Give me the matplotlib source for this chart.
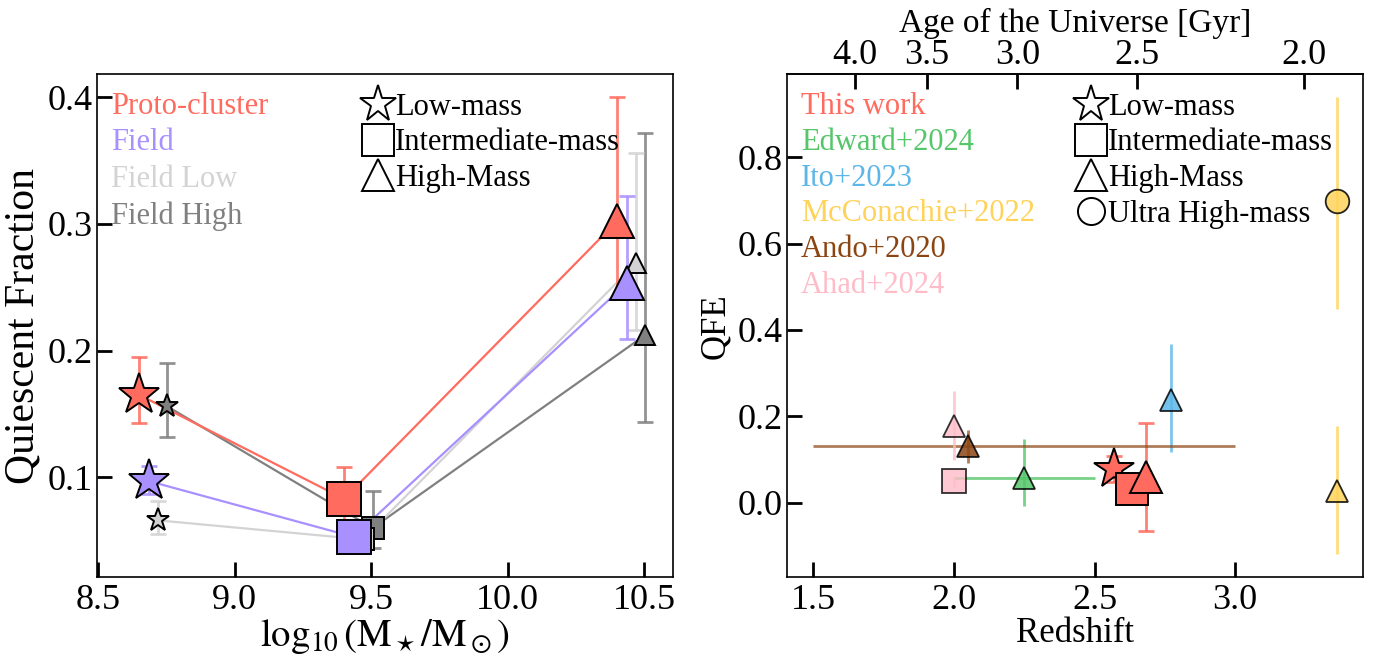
import numpy as np
import matplotlib
matplotlib.use('Agg')
import matplotlib.pyplot as plt
from matplotlib.lines import Line2D

plt.rcParams['font.family'] = ['Liberation Serif', 'DejaVu Serif']
plt.rcParams['mathtext.fontset'] = 'stix'

# ---------------- Left panel data ----------------
mass_labels = ['Low-mass', 'Intermediate-mass', 'High-Mass']

pc_x = [8.65, 9.40, 10.40]
pc_y = [0.165, 0.083, 0.302]
pc_lo = [0.022, 0.024, 0.061]
pc_hi = [0.030, 0.025, 0.098]

fd_x = [8.685, 9.435, 10.435]
fd_y = [0.097, 0.053, 0.253]
fd_lo = [0.010, 0.008, 0.044]
fd_hi = [0.012, 0.008, 0.069]

fl_x = [8.72, 9.47, 10.47]
fl_y = [0.066, 0.051, 0.269]
fl_lo = [0.011, 0.006, 0.053]
fl_hi = [0.015, 0.006, 0.087]

fh_x = [8.752, 9.505, 10.502]
fh_y = [0.156, 0.060, 0.212]
fh_lo = [0.024, 0.016, 0.068]
fh_hi = [0.034, 0.029, 0.160]

# ---------------- Right panel data ----------------
tw_z = [2.57, 2.635, 2.683]
tw_q = [0.077, 0.032, 0.060]
tw_qerr = [0.03, 0.0, 0.125]

ed_z, ed_q = 2.25, 0.058
ed_zerr = [[0.25], [0.25]]
ed_qerr = [[0.066], [0.09]]

ito_z, ito_q = 2.772, 0.238
ito_qerr = [[0.12], [0.13]]

mc_z = [3.363, 3.363]
mc_q = [0.699, 0.028]
mc_qlo = [0.25, 0.148]
mc_qhi = [0.24, 0.15]

an_z, an_q = 2.05, 0.13
an_zerr = [[0.55], [0.95]]
an_qerr = 0.038

ah_z = [2.0, 2.0]
ah_q = [0.178, 0.049]
ah_qerr = [0.08, 0.012]

age_ticks = [4.0, 3.5, 3.0, 2.5, 2.0]

# colours
C_PC = '#FF6B5E'
C_FD = '#A990FF'
C_FL = '#D3D3D3'
C_FH = '#808080'
C_ED = '#55C66A'
C_ITO = '#5DB6E8'
C_MC = '#FFD35A'
C_AN = '#8B4513'
C_AH = '#FFBCC8'

fig = plt.figure(figsize=(13.84, 6.58), dpi=100)
ax1 = fig.add_axes([96.9/1384, 1 - 577.3/658, 576/1384, 503/658])
ax2 = fig.add_axes([787/1384, 1 - 577.3/658, 576/1384, 503/658])

FS_TICK = 26
FS_LEG = 22

mk = ['*', 's', '^']
big_ms = {'*': 31, 's': 25, '^': 25}
small_ms = {'*': 17, 's': 16, '^': 15}

def series(ax, xs, ys, lo, hi, color, sizes, zl, zm):
    ax.plot(xs, ys, '-', color=color, lw=1.6, zorder=zl)
    ax.errorbar(xs, ys, yerr=[lo, hi], fmt='none', ecolor=color, elinewidth=2,
                capsize=6, capthick=2, alpha=0.85, zorder=zl + 0.5)
    for x, y, m in zip(xs, ys, mk):
        ax.plot([x], [y], marker=m, ms=sizes[m], mfc=color, mec='black', mew=1.4,
                linestyle='none', zorder=zm)

series(ax1, fh_x, fh_y, fh_lo, fh_hi, C_FH, small_ms, 1, 3)
series(ax1, fl_x, fl_y, fl_lo, fl_hi, C_FL, small_ms, 1, 3)
series(ax1, fd_x, fd_y, fd_lo, fd_hi, C_FD, big_ms, 1.2, 4)
series(ax1, pc_x, pc_y, pc_lo, pc_hi, C_PC, big_ms, 1.3, 4)

ax1.set_xlim(8.4945, 10.605)
ax1.set_ylim(0.0211, 0.418)
ax1.set_xticks([8.5, 9.0, 9.5, 10.0, 10.5])
ax1.set_yticks([0.1, 0.2, 0.3, 0.4])
ax1.set_xlabel(r'$\log_{10}(\mathrm{M}_\star/\mathrm{M}_\odot)$', fontsize=28, labelpad=0)
ax1.set_ylabel('Quiescent Fraction', fontsize=30, labelpad=4)

# colored text legend (left)
names1 = ['Proto-cluster', 'Field', 'Field Low', 'Field High']
cols1 = [C_PC, C_FD, C_FL, C_FH]
h1 = [Line2D([], [], linestyle='none') for _ in names1]
leg1 = ax1.legend(h1, names1, labelcolor=cols1, loc='upper left', frameon=False,
                  fontsize=FS_LEG, handlelength=0, handletextpad=0, labelspacing=0.24,
                  borderaxespad=0.05, bbox_to_anchor=(0.0, 0.992))
ax1.add_artist(leg1)

mh = [Line2D([], [], marker=m, linestyle='none', mfc='white', mec='black', mew=1.4,
             ms={'*': 28, 's': 23, '^': 23.5}[m]) for m in mk]
ax1.legend(mh, mass_labels, loc='upper left', bbox_to_anchor=(0.43, 1.0), frameon=False,
           fontsize=FS_LEG, handlelength=1.0, handletextpad=0.05, labelspacing=0.22,
           borderaxespad=0.2)

# ---------------- Right panel ----------------
# This work
ax2.errorbar([tw_z[0]], [tw_q[0]], yerr=[[tw_qerr[0]], [tw_qerr[0]]], fmt='none',
             ecolor=C_PC, elinewidth=2, capsize=6, capthick=2, alpha=0.85, zorder=2)
ax2.errorbar([tw_z[2]], [tw_q[2]], yerr=[[tw_qerr[2]], [tw_qerr[2]]], fmt='none',
             ecolor=C_PC, elinewidth=2, capsize=6, capthick=2, alpha=0.85, zorder=2)
for z, q, m, s in zip(tw_z, tw_q, mk, [30, 23, 23]):
    ax2.plot([z], [q], marker=m, ms=s, mfc=C_PC, mec='black', mew=1.4,
             linestyle='none', zorder=5)

# Edward+2024
ax2.errorbar([ed_z], [ed_q], xerr=ed_zerr, yerr=ed_qerr, fmt='none', ecolor=C_ED,
             elinewidth=2, alpha=0.8, zorder=2)
ax2.plot([ed_z], [ed_q], marker='^', ms=16, mfc=C_ED, mec='black', mew=1.3,
         linestyle='none', alpha=0.85, zorder=4)

# Ito+2023
ax2.errorbar([ito_z], [ito_q], yerr=ito_qerr, fmt='none', ecolor=C_ITO,
             elinewidth=2, alpha=0.8, zorder=2)
ax2.plot([ito_z], [ito_q], marker='^', ms=16.5, mfc=C_ITO, mec='black', mew=1.3,
         linestyle='none', alpha=0.85, zorder=4)

# McConachie+2022
ax2.errorbar(mc_z, mc_q, yerr=[mc_qlo, mc_qhi], fmt='none', ecolor=C_MC,
             elinewidth=2, alpha=0.8, zorder=2)
ax2.plot([mc_z[0]], [mc_q[0]], marker='o', ms=17, mfc=C_MC, mec='black', mew=1.3,
         linestyle='none', alpha=0.85, zorder=4)
ax2.plot([mc_z[1]], [mc_q[1]], marker='^', ms=16.5, mfc=C_MC, mec='black', mew=1.3,
         linestyle='none', alpha=0.85, zorder=4)

# Ando+2020
ax2.errorbar([an_z], [an_q], xerr=an_zerr, yerr=an_qerr, fmt='none', ecolor=C_AN,
             elinewidth=2, alpha=0.7, zorder=2)
ax2.plot([an_z], [an_q], marker='^', ms=16.5, mfc=C_AN, mec='black', mew=1.3,
         linestyle='none', alpha=0.85, zorder=4)

# Ahad+2024
ax2.errorbar(ah_z, ah_q, yerr=ah_qerr, fmt='none', ecolor=C_AH,
             elinewidth=2, alpha=0.8, zorder=2)
ax2.plot([ah_z[0]], [ah_q[0]], marker='^', ms=16.5, mfc=C_AH, mec='black', mew=1.3,
         linestyle='none', alpha=0.8, zorder=4)
ax2.plot([ah_z[1]], [ah_q[1]], marker='s', ms=17, mfc=C_AH, mec='black', mew=1.3,
         linestyle='none', alpha=0.8, zorder=4)

ax2.set_xlim(1.406, 3.455)
ax2.set_ylim(-0.173, 0.992)
ax2.set_xticks([1.5, 2.0, 2.5, 3.0])
ax2.set_yticks([0.0, 0.2, 0.4, 0.6, 0.8])
ax2.set_xlabel('Redshift', fontsize=25, labelpad=0)
ax2.set_ylabel('QFE', fontsize=25, labelpad=4)

names2 = ['This work', 'Edward+2024', 'Ito+2023', 'McConachie+2022', 'Ando+2020', 'Ahad+2024']
cols2 = [C_PC, C_ED, C_ITO, C_MC, C_AN, C_AH]
h2 = [Line2D([], [], linestyle='none') for _ in names2]
leg2 = ax2.legend(h2, names2, labelcolor=cols2, loc='upper left', frameon=False,
                  fontsize=FS_LEG, handlelength=0, handletextpad=0, labelspacing=0.22,
                  borderaxespad=0.05, bbox_to_anchor=(0.0, 0.992))
ax2.add_artist(leg2)

mk2 = ['*', 's', '^', 'o']
lab2 = ['Low-mass', 'Intermediate-mass', 'High-Mass', 'Ultra High-mass']
mh2 = [Line2D([], [], marker=m, linestyle='none', mfc='white', mec='black', mew=1.4,
              ms={'*': 28, 's': 23, '^': 23.5, 'o': 19.5}[m]) for m in mk2]
ax2.legend(mh2, lab2, loc='upper left', bbox_to_anchor=(0.47, 1.0), frameon=False,
           fontsize=FS_LEG, handlelength=1.0, handletextpad=0.05, labelspacing=0.22,
           borderaxespad=0.2)

# Age axis on top
H0, Om = 67.7, 0.3
OL = 1 - Om
tH = 977.8 / H0

def z2age(z):
    z = np.clip(np.asarray(z, float), -0.9, None)
    return 2 / (3 * np.sqrt(OL)) * tH * np.arcsinh(np.sqrt(OL / Om) * (1 + z) ** -1.5)

def age2z(t):
    t = np.clip(np.asarray(t, float), 1e-3, 13.0)
    s = np.sinh(t * 3 * np.sqrt(OL) / (2 * tH)) / np.sqrt(OL / Om)
    return s ** (-2.0 / 3.0) - 1

sec = ax2.secondary_xaxis('top', functions=(z2age, age2z))
sec.set_xticks(age_ticks)
sec.set_xticklabels(['%.1f' % a for a in age_ticks])
sec.set_xlabel('Age of the Universe [Gyr]', fontsize=24, labelpad=5)
sec.tick_params(direction='in', length=11, width=2, labelsize=FS_TICK, pad=2)

for ax in (ax1, ax2):
    ax.tick_params(direction='in', length=11, width=2, labelsize=FS_TICK)
    ax.tick_params(axis='x', pad=5)
    ax.tick_params(axis='y', pad=3)
    for sp in ax.spines.values():
        sp.set_linewidth(1.2)
sec.spines['top'].set_linewidth(1.2)

fig.savefig('out.png', dpi=100)
